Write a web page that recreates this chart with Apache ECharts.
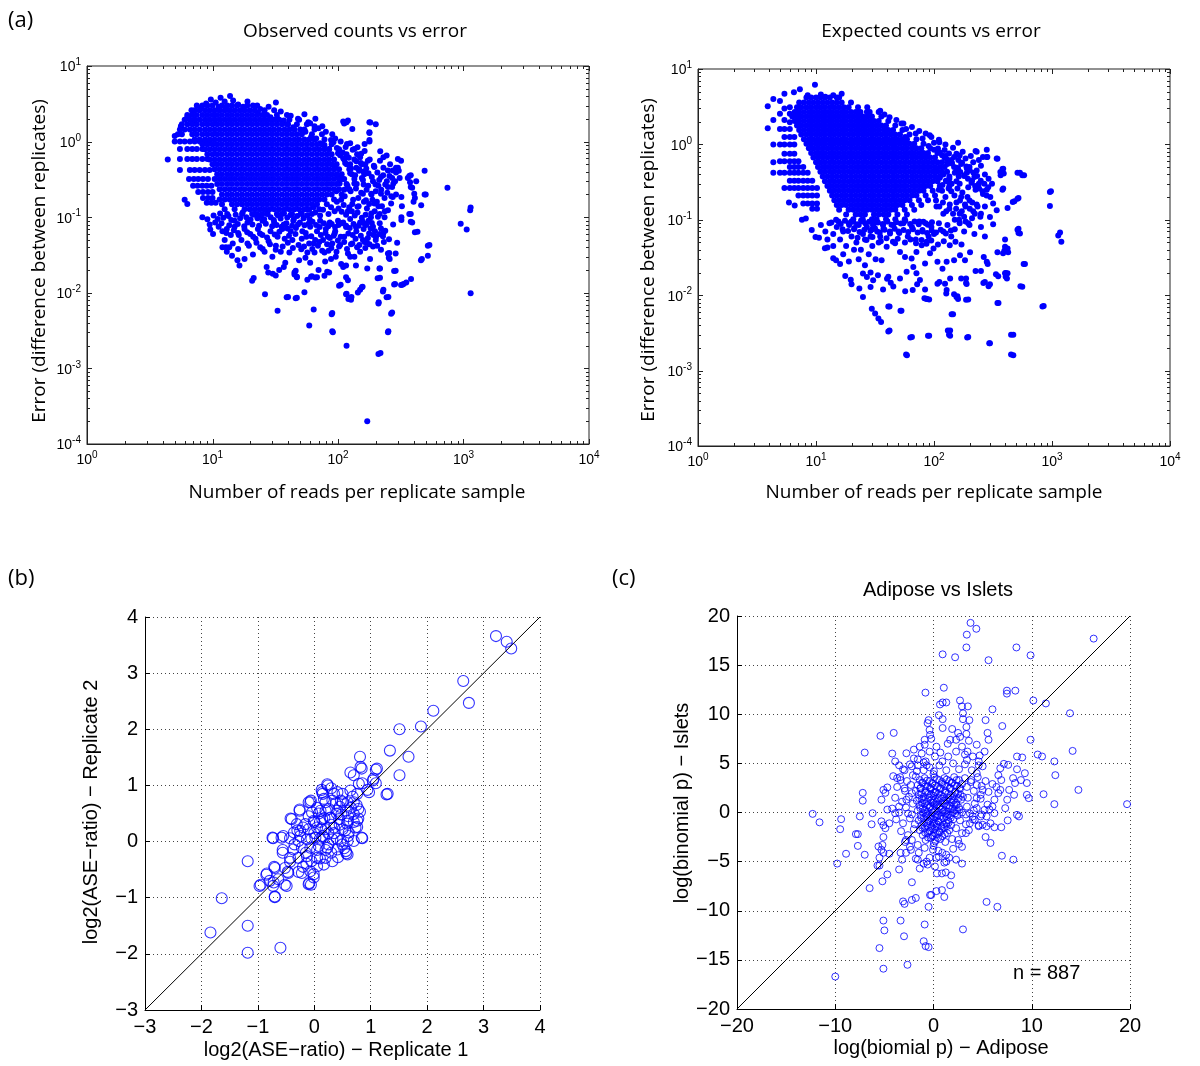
<!DOCTYPE html>
<html><head><meta charset="utf-8">
<script src="https://cdn.jsdelivr.net/npm/echarts/dist/echarts.min.js"></script>
<style>html,body{margin:0;padding:0;background:#fff}#c{width:1200px;height:1066px}</style>
</head><body><div id="c"></div><script>
// ---------- Panel (a) left: observed counts vs error ----------
// dense core, grouped by error level: [error, [read counts...]]
const obsRows = [
 [3.0, [7.5,8.3,9.1,10,11.9,13.1,14.3,15.7,18.9,22.7]],
 [2.6, [7.2,7.9,8.7,9.5,10.4,11.4,12.5,13.7,15,16.5,18,19.8,21.7,26,31]],
 [2.25,[6.3,6.9,7.5,8.3,9.1,10,10.9,11.9,13.1,14.3,15.7,17.2,18.9,20.7,22.7,24.9,27.2,32.6,39.2]],
 [1.95,[6.0,6.6,7.2,7.9,8.7,9.5,10.4,11.4,12.5,13.7,15,16.5,18,19.8,21.7,23.8,26,28.5,31,34,41,49]],
 [1.7, [5.7,6.3,6.9,7.5,8.3,9.1,10,10.9,11.9,13.1,14.3,15.7,17.2,18.9,20.7,22.7,24.9,27.2,29.8,32.6,35.8,39.2,47,56.5]],
 [1.45,[5.5,6.0,6.6,7.2,7.9,8.7,9.5,10.4,11.4,12.5,13.7,15,16.5,18,19.8,21.7,23.8,26,28.5,31,34,37.5,41,45,54,65]],
 [1.25,[5.3,5.7,6.9,7.5,8.3,9.1,10,10.9,11.9,13.1,14.3,15.7,17.2,18.9,20.7,22.7,24.9,27.2,29.8,32.6,35.8,39.2,43,47,51.5,62,74.5]],
 [1.07,[7.2,7.9,8.7,9.5,10.4,11.4,12.5,13.7,15,16.5,18,19.8,21.7,23.8,26,28.5,31,34,37.5,41,45,49,54,59,65,78]],
 [0.92,[8.3,9.1,10,10.9,11.9,13.1,14.3,15.7,17.2,18.9,20.7,22.7,24.9,27.2,29.8,32.6,35.8,39.2,43,47,51.5,56.5,62,68,74.5,89]],
 [0.79,[8.7,9.5,10.4,11.4,12.5,13.7,15,16.5,18,19.8,21.7,23.8,26,28.5,31,34,37.5,41,45,49,54,59,65,71,78,85,102]],
 [0.68,[9.1,10,10.9,11.9,13.1,14.3,15.7,17.2,18.9,20.7,22.7,24.9,27.2,29.8,32.6,35.8,39.2,43,47,51.5,56.5,62,68,74.5,81.5,89,117]],
 [0.58,[9.5,10.4,11.4,12.5,13.7,15,16.5,18,19.8,21.7,23.8,26,28.5,31,34,37.5,41,45,49,54,59,65,71,78,85,93,112,135]],
 [0.5, [10,10.9,11.9,13.1,14.3,15.7,17.2,18.9,20.7,22.7,24.9,27.2,29.8,32.6,35.8,39.2,43,47,51.5,56.5,62,68,74.5,81.5,89,97.5,117,155]],
 [0.43,[10.4,11.4,12.5,13.7,15,16.5,18,19.8,21.7,23.8,26,28.5,31,34,37.5,41,45,49,54,59,65,71,78,85,93,102,123,148]],
 [0.37,[10.9,11.9,13.1,14.3,15.7,17.2,18.9,20.7,22.7,24.9,27.2,29.8,32.6,35.8,39.2,43,47,51.5,56.5,62,68,74.5,81.5,89,97.5,107,129,162]],
 [0.32,[10.4,11.4,12.5,13.7,15,16.5,18,19.8,21.7,23.8,26,28.5,31,34,37.5,41,45,49,54,59,65,71,78,85,93,102,112,135]],
 [0.275,[10.9,11.9,13.1,14.3,15.7,17.2,18.9,20.7,22.7,24.9,27.2,29.8,32.6,35.8,39.2,43,47,51.5,56.5,62,68,74.5,81.5,89,97.5,117,141]],
 [0.235,[11.4,12.5,13.7,15,16.5,18,19.8,21.7,23.8,26,28.5,31,34,37.5,41,45,49,54,59,65,71,78,85,93,102,123]],
 [0.2, [11.9,13.1,14.3,15.7,17.2,18.9,20.7,22.7,24.9,27.2,29.8,32.6,35.8,39.2,43,47,51.5,56.5,62,68,74.5,81.5,89,107]],
 [0.172,[11.4,12.5,13.7,15,16.5,18,19.8,21.7,23.8,26,28.5,31,34,37.5,41,45,49,54,59,65,71,78,93]],
 [0.148,[11.9,14.3,15.7,17.2,18.9,20.7,22.7,24.9,27.2,29.8,32.6,35.8,39.2,43,47,51.5,56.5,62,68,81.5]],
 [0.127,[12.5,15,18,19.8,21.7,23.8,26,28.5,31,34,37.5,41,45,49,54,59,71]],
 [0.11,[13.1,17.2,20.7,22.7,24.9,27.2,32.6,35.8,43,51.5,62]]
];
const obsStripes = [[5.0,1.0],[5.5,1.0],[6.0,1.0],[6.6,1.0],[7.2,1.0],[7.9,1.0],[8.7,1.0],[9.5,1.0],
 [5.5,0.8],[6.3,0.8],[6.9,0.8],[7.5,0.8],[8.3,0.8],
 [4.4,0.58],[5.5,0.59],[6.3,0.59],[6.9,0.59],[7.5,0.59],[8.3,0.59],[9.1,0.59],
 [5.5,0.42],[6.6,0.42],[7.2,0.42],[7.9,0.42],[8.7,0.42],[9.5,0.42],
 [6.5,0.32],[7.1,0.32],[7.7,0.32],[8.4,0.32],[9.2,0.32],
 [7.0,0.26],[7.6,0.26],[8.3,0.26],[9.0,0.26],[9.8,0.26],
 [7.7,0.215],[8.4,0.215],[9.2,0.215],[10,0.215],
 [8.4,0.18],[9.2,0.18],[10,0.18],[9.0,0.155],[9.8,0.155],[10.6,0.155],
 [6.0,0.17],[6.3,0.15],[5.0,1.19],[5.6,1.6],[6.3,2.1],[6.8,2.6],[7.0,1.9]];
const obsSparse = [
 [9.7,3.6],[11.6,3.8],[13.8,4.0],[12.5,3.4],[16,3.1],[19,3.4],[32,3.3],[24,2.7],[28,2.9],[35,2.5],[42,2.2],[54,2.3],[66,2.0],[48,2.0],[58,1.8],[75,1.6],
 [8.0,2.8],[8.9,3.2],[10.6,3.3],[11.2,2.9],[12.9,2.8],[14.6,3.5],[17.5,2.9],[21,3.0],[23,2.4],[26,2.3],[29,2.1],[33,2.0],[37,1.9],[40,1.7],[44,1.55],[50,1.45],[55,1.35],[61,1.15],[67,1.1],[72,0.95],[78,0.9],[85,0.8],
 [117,1.8],[120,1.9],[178,1.8],[200,1.7],[178,1.3],[178,1.0],
 [112,1.74],[110,1.85],[130,1.47],[181,1.79],[178,1.33],[178,1.05],[217,0.745],[244,0.655],[216,0.56],[300,0.59],[318,0.56],[305,0.41],[270,0.33],[310,0.33],[360,0.33],[380,0.36],[420,0.30],[390,0.245],[405,0.205],[460,0.144],[500,0.2],[320,0.185],[323,0.14],[320,0.1],[370,0.11],[380,0.087],[273,0.185],[265,0.152],[250,0.124],[235,0.1],[215,0.083],[184,0.112],[195,0.152],[167,0.168],[143,0.137],[158,0.205],[184,0.205],[220,0.205],[250,0.25],[220,0.34],[195,0.46],[173,0.56],[153,0.69],[143,0.84],[163,0.93],[250,0.415],[273,0.415],
 [125,0.95],[135,0.8],[150,0.62],[165,0.5],[140,0.45],[175,0.38],[190,0.3],[160,0.27],[200,0.22],[145,0.18],[130,0.15],[170,0.13],[120,0.12],[185,0.2],[210,0.26],[230,0.45],[155,0.33],[115,0.85],[105,1.0],[95,1.1],[90,1.25],[80,1.35],[70,1.5],[65,1.6],[60,1.75],[88,1.05],[100,0.7],[110,0.6],[125,0.5],[135,0.28],[112,0.23],[98,0.16],[140,0.55],[160,0.4],[125,0.38],[245,0.3],[260,0.5],[290,0.45],[230,0.62],[270,0.25],[290,0.2],[235,0.18],[210,0.14],[285,0.3],
 [300,0.45],[290,0.39],[370,0.35],[375,0.29],[380,0.25],[410,0.18],[400,0.16],[490,0.41],[490,0.2],[745,0.246],[1140,0.134],[1130,0.124],[950,0.082],[1060,0.069],[1140,0.0099],
 [410,0.063],[458,0.027],[520,0.042],[520,0.031],[535,0.043],[466,0.028],[382,0.0152],[350,0.0137],[325,0.0128],[285,0.0131],[288,0.0196],[270,0.0055],[252,0.0031],[218,0.0016],[211,0.0075],[252,0.0088],[230,0.011],[216,0.0158],[216,0.021],[171,0.021],[288,0.033],[256,0.0335],[254,0.029],[296,0.046],[220,0.037],[430,0.064],[390,0.085],[380,0.11],[320,0.092],[275,0.08],[230,0.062],[228,0.056],[255,0.051],[200,0.05],[163,0.047],[116,0.023],[139,0.023],[105,0.0128],[117,0.0097],[128,0.0088],[121,0.0083],[150,0.011],[157,0.012],[117,0.002],[90,0.0031],[90,0.0054],[59,0.0037],[64,0.006],[79,0.026],[85,0.0185],[68,0.0161],[62,0.0166],[57,0.0149],[47,0.0163],[45,0.0186],[40,0.0088],[47,0.0086],[54,0.0102],[171,0.0002],
 [8.3,0.1],[9.1,0.094],[9.6,0.069],[10.1,0.06],[12,0.04],[12.8,0.04],[13.6,0.04],[14.3,0.031],[15.8,0.027],[16.4,0.023],[20.7,0.0144],[21.3,0.0157],[26.2,0.0096],[27.8,0.0185],[30.2,0.0178],[31.9,0.017],[33,0.0058],[39,0.0087],[46,0.0085],[45,0.0175],[47,0.016],[61,0.0163],[66,0.0159],[78,0.0168],[82,0.019],[89,0.0052],[91,0.003],[102,0.0124],[116,0.016],[120,0.0147],[116,0.0096],[127,0.0081],[144,0.0101],[155,0.0118],[207,0.0156],[214,0.021],[210,0.0072],[210,0.00155],[228,0.0104],[244,0.0087],[265,0.0053],[250,0.003],[250,0.033],[258,0.028],[280,0.0194],[280,0.0129],[318,0.0127],[333,0.0131],
 [39.6,0.071],[43.3,0.05],[49,0.027],[51,0.0376],[57,0.034],[65,0.034],[78,0.034],[84,0.036],[96,0.03],[102,0.041],[112,0.047],[131,0.058],[148,0.043],[158,0.05],[170,0.046],[177,0.061],[201,0.055],[220,0.071],[41,0.034],[46,0.0196],[37,0.022],[55,0.029],[71,0.047],[83,0.055],[94,0.061],[116,0.074],[139,0.074],[163,0.082],[186,0.084],[208,0.101],[120,0.033],[135,0.03],[106,0.024],
 [10.5,0.085],[11.2,0.075],[12,0.065],[13,0.07],[14,0.058],[15,0.075],[16,0.062],[17,0.05],[18,0.07],[19,0.045],[20,0.06],[22,0.052],[23,0.07],[24,0.04],[25,0.058],[26,0.035],[28,0.048],[29,0.065],[30,0.03],[32,0.042],[33,0.055],[35,0.035],[36,0.07],[38,0.025],[12.5,0.05],[14.5,0.045],[21,0.032],[18,0.028],[27,0.022],[34,0.02],[13,0.035],[16,0.038],[9.5,0.08],[11,0.095],[15,0.09],[19,0.085],[25,0.09],[31,0.085],[37,0.08],[42,0.065],[44,0.09],[48,0.08],[52,0.065],[56,0.055],[60,0.075],[64,0.045],[68,0.065],[72,0.09],[76,0.05],[80,0.07],[86,0.085],[90,0.045],[95,0.065],[100,0.09],[105,0.055],[110,0.085],[125,0.095],[130,0.045],[140,0.065],[150,0.085],[160,0.07],[175,0.09],[190,0.075],[60,0.025],[70,0.02],[88,0.028],[110,0.022],[125,0.03],[150,0.035],[180,0.028],[190,0.041]
];
// mottled band below and right of the core
const obsMottled = [
 [10.2,0.105],[11.5,0.112],[12.2,0.098],[13.4,0.104],[14.1,0.092],[15.3,0.108],[16.6,0.097],[17.4,0.115],[18.6,0.1],[20.1,0.093],[21.5,0.108],[22.8,0.097],[24.3,0.104],[25.8,0.094],[27.5,0.112],[29.1,0.1],[30.8,0.092],[33.2,0.106],[34.9,0.096],[37.1,0.113],[39.4,0.099],[41.8,0.107],[44.5,0.095],[47.3,0.104],[50.6,0.112],[53.2,0.097],[56.8,0.106],[59.5,0.094],
 [11.8,0.083],[13.6,0.078],[15.9,0.081],[17.9,0.076],[20.8,0.08],[23.5,0.077],[26.6,0.082],[29.9,0.076],[32.4,0.079],[35.6,0.075],[38.8,0.083],[43.1,0.077],[46.2,0.072],[49.7,0.085],[54.1,0.078],[58.3,0.082],[62.7,0.087],[66.9,0.079],[71.5,0.074],[77.2,0.083],[83.6,0.076],[89.1,0.081],[94.7,0.074],[101,0.079],[108,0.083],[116,0.077],[124,0.072],[133,0.081],[146,0.077],[157,0.088],[168,0.079],[182,0.071],[197,0.065],
 [12.9,0.062],[14.8,0.067],[16.2,0.058],[18.9,0.063],[21.1,0.055],[23.9,0.061],[27.2,0.054],[31.3,0.059],[34.1,0.064],[37.6,0.052],[40.7,0.057],[45.8,0.06],[51.4,0.052],[55.3,0.062],[61.2,0.056],[65.8,0.05],[73.1,0.058],[79.5,0.062],[86.2,0.053],[92.4,0.057],[99.8,0.049],[112,0.055],[121,0.061],[138,0.052],[152,0.057],[173,0.053],[192,0.058],[215,0.06],[238,0.066],
 [19.5,0.042],[22.4,0.046],[25.1,0.038],[28.7,0.044],[31.9,0.037],[36.2,0.041],[39.8,0.046],[43.7,0.039],[48.5,0.043],[53.6,0.041],[58.9,0.045],[62.4,0.038],[69.2,0.042],[74.8,0.036],[81.9,0.044],[88.5,0.039],[97.3,0.035],[104,0.043],[118,0.038],[127,0.044],[142,0.04],[165,0.039],[178,0.044],[205,0.042],[232,0.047],
 [92,0.98],[98,0.82],[104,0.66],[109,0.72],[114,0.52],[118,0.93],[122,0.61],[127,0.44],[131,0.78],[137,0.36],[142,0.68],[147,0.41],[152,0.52],[158,0.31],[163,0.75],[168,0.44],[174,0.26],[179,0.58],[186,0.34],[193,0.48],[199,0.27],[206,0.39],[213,0.31],[221,0.23],[229,0.36],[238,0.27],[247,0.21],[257,0.35],[266,0.19],[276,0.28],
 [94,0.45],[99,0.36],[103,0.28],[108,0.32],[113,0.19],[119,0.26],[126,0.22],[132,0.17],[139,0.24],[146,0.14],[153,0.21],[161,0.16],[169,0.23],[177,0.15],[188,0.17],[196,0.12],[204,0.16],[215,0.11],[224,0.14],[236,0.12],
 [97,0.22],[101,0.13],[106,0.17],[111,0.145],[116,0.108],[123,0.135],[129,0.12],[136,0.105],[143,0.115],[155,0.098],[166,0.108],[183,0.1],[107,0.118],[94,0.12],[88,0.135],[84,0.11],[76,0.125],[72,0.105],[66,0.115],[64,0.135],[58,0.125]
];

// ---------- Panel (a) right: expected counts vs error ----------
const expRows = [
 [4.2, [8.3,9.1,10,10.9,11.9,13.1,15.7]],
 [3.6, [7.2,7.9,8.7,9.5,10.4,11.4,12.5,13.7,15,16.5,19.8]],
 [3.1, [6.9,7.5,8.3,9.1,10,10.9,11.9,13.1,14.3,15.7,17.2,18.9,22.7,27.2]],
 [2.7, [6.6,7.2,7.9,8.7,9.5,10.4,11.4,12.5,13.7,15,16.5,18,19.8,21.7,23.8,28.5,34]],
 [2.35,[6.3,6.9,7.5,8.3,9.1,10,10.9,11.9,13.1,14.3,15.7,17.2,18.9,20.7,22.7,24.9,27.2,29.8,35.8]],
 [2.05,[6.6,7.2,7.9,8.7,9.5,10.4,11.4,12.5,13.7,15,16.5,18,19.8,21.7,23.8,26,28.5,31,34,41]],
 [1.78,[6.9,7.5,8.3,9.1,10,10.9,11.9,13.1,14.3,15.7,17.2,18.9,20.7,22.7,24.9,27.2,29.8,32.6,35.8,39.2,47]],
 [1.55,[7.2,7.9,8.7,9.5,10.4,11.4,12.5,13.7,15,16.5,18,19.8,21.7,23.8,26,28.5,31,34,37.5,41,45,54]],
 [1.35,[7.5,8.3,9.1,10,10.9,11.9,13.1,14.3,15.7,17.2,18.9,20.7,22.7,24.9,27.2,29.8,32.6,35.8,39.2,43,47,51.5,62]],
 [1.17,[7.9,8.7,9.5,10.4,11.4,12.5,13.7,15,16.5,18,19.8,21.7,23.8,26,28.5,31,34,37.5,41,45,49,54,59,71]],
 [1.02,[8.3,9.1,10,10.9,11.9,13.1,14.3,15.7,17.2,18.9,20.7,22.7,24.9,27.2,29.8,32.6,35.8,39.2,43,47,51.5,56.5,62,68,81.5]],
 [0.89,[8.7,9.5,10.4,11.4,12.5,13.7,15,16.5,18,19.8,21.7,23.8,26,28.5,31,34,37.5,41,45,49,54,59,65,71,78,93]],
 [0.77,[9.1,10,10.9,11.9,13.1,14.3,15.7,17.2,18.9,20.7,22.7,24.9,27.2,29.8,32.6,35.8,39.2,43,47,51.5,56.5,62,68,74.5,81.5,89,107]],
 [0.67,[9.5,10.4,11.4,12.5,13.7,15,16.5,18,19.8,21.7,23.8,26,28.5,31,34,37.5,41,45,49,54,59,65,71,78,85,93,102,123]],
 [0.58,[10,10.9,11.9,13.1,14.3,15.7,17.2,18.9,20.7,22.7,24.9,27.2,29.8,32.6,35.8,39.2,43,47,51.5,56.5,62,68,74.5,81.5,89,97.5,107,117,141]],
 [0.5, [10.4,11.4,12.5,13.7,15,16.5,18,19.8,21.7,23.8,26,28.5,31,34,37.5,41,45,49,54,59,65,71,78,85,93,102,112,123,148]],
 [0.435,[10.9,11.9,13.1,14.3,15.7,17.2,18.9,20.7,22.7,24.9,27.2,29.8,32.6,35.8,39.2,43,47,51.5,56.5,62,68,74.5,81.5,89,97.5,107,117,129,155]],
 [0.375,[11.4,12.5,13.7,15,16.5,18,19.8,21.7,23.8,26,28.5,31,34,37.5,41,45,49,54,59,65,71,78,85,93,102,112,135,162]],
 [0.325,[11.9,13.1,14.3,15.7,17.2,18.9,20.7,22.7,24.9,27.2,29.8,32.6,35.8,39.2,43,47,51.5,56.5,62,68,74.5,81.5,89,97.5,107,129,155]],
 [0.28,[12.5,13.7,15,16.5,18,19.8,21.7,23.8,26,28.5,31,34,37.5,41,45,49,54,59,65,71,78,85,93,112,135]],
 [0.243,[13.1,14.3,15.7,17.2,18.9,20.7,22.7,24.9,27.2,29.8,32.6,35.8,39.2,43,47,51.5,56.5,62,68,74.5,81.5,97.5,117]],
 [0.21,[13.7,15,16.5,18,19.8,21.7,23.8,26,28.5,31,34,37.5,41,45,49,54,59,65,71,85,102]],
 [0.182,[14.3,15.7,17.2,18.9,20.7,22.7,24.9,27.2,29.8,32.6,35.8,39.2,43,47,51.5,56.5,62,74.5,89]],
 [0.157,[15,16.5,18,19.8,21.7,23.8,26,28.5,31,34,37.5,41,45,49,54,65,78]],
 [0.136,[15.7,18.9,20.7,22.7,24.9,27.2,29.8,32.6,35.8,39.2,43,47,56.5,68]],
 [0.118,[18,21.7,23.8,26,31,34,37.5,41,49,59]],
 [0.102,[20.7,24.9,29.8,32.6,39.2,47,56.5]]
];
const expStripes = [
 [3.9,3.2],[3.9,1.64],[4.35,4.0],[4.35,2.1],[4.35,1.0],[4.35,0.58],[4.35,0.42],
 [4.95,3.75],[4.95,2.55],[4.95,1.6],[4.95,1.0],[4.95,0.6],[4.95,0.42],
 [5.4,4.7],[5.4,3.0],[5.4,2.1],[5.4,1.6],[5.4,1.25],[5.4,1.0],[5.4,0.75],[5.4,0.6],[5.4,0.42],[5.4,0.265],
 [6.0,3.1],[6.0,2.55],[6.0,1.97],[6.0,1.6],[6.0,1.25],[6.0,1.0],[6.0,0.75],[6.0,0.6],[6.0,0.5],[6.0,0.42],[6.0,0.33],[6.0,0.265],[5.9,0.17],
 [6.55,1.25],[6.55,1.0],[6.55,0.75],[6.55,0.6],[6.55,0.5],[6.55,0.42],[6.55,0.33],[6.55,0.265],[6.6,0.155],
 [7.1,0.6],[7.1,0.5],[7.1,0.42],[7.1,0.33],[7.1,0.265],[7.1,0.21],
 [7.8,0.5],[7.8,0.42],[7.8,0.33],[7.8,0.265],[7.8,0.21],[7.8,0.165],
 [8.5,0.42],[8.5,0.33],[8.5,0.265],[8.5,0.21],[8.5,0.165],
 [9.3,0.33],[9.3,0.265],[9.3,0.21],[9.3,0.165],[9.3,0.14],
 [10.2,0.265],[10.2,0.21],[10.2,0.165],[10.2,0.14]];
const expSparse = [
 [6.5,4.9],[7.3,5.4],[9.8,6.2],[8.5,4.5],[12,4.3],[14,4.5],[16.5,4.7],[15,4.2],[11,4.6],
 [27,2.7],[35,2.8],[53,1.9],[57,1.25],[92,1.32],[111,1.07],[165,0.71],[225,0.82],[283,0.68],[340,0.65],[190,0.48],
 [7.6,0.1],[8.2,0.104],[9.2,0.073],[9.9,0.059],[10.6,0.058],[11.9,0.042],[12.5,0.043],[14,0.031],[14.8,0.029],[16,0.026],[17.7,0.018],[19.7,0.016],[20,0.014],[23.3,0.0123],[25,0.0095],[29.7,0.0066],[31.7,0.0057],[33.8,0.0049],[35.6,0.0044],[41,0.0071],[41,0.0033],[52,0.0062],[58,0.00163],[63,0.00275],[89,0.0029],[131,0.0034],[134,0.003],[141,0.0056],[191,0.00275],[294,0.0023],[450,0.003],[450,0.00163],[345,0.0079],[830,0.0071],
 [960,0.233],[960,0.152],[1130,0.062],[1170,0.068],[1200,0.051],[575,0.026],[540,0.0131],[510,0.074],[520,0.067],[465,0.172],[510,0.19],[510,0.42],[560,0.39],[380,0.47],[390,0.41],[365,0.43],[380,0.25],[400,0.055],[400,0.044],[395,0.039],[385,0.036],[405,0.0197],[405,0.0175],[335,0.019],[290,0.0131],[262,0.0145],[285,0.026],[264,0.032],[225,0.021],[187,0.0167],[187,0.0145],[155,0.0095],[148,0.0103],[187,0.0087],[107,0.0142],[124,0.0142],[127,0.0105],[83,0.0091],[87,0.0089],[57,0.0113],[66,0.0117],[72,0.014],[43,0.0146],[37,0.0119],[40,0.0165],[29,0.0128],[30.5,0.0158],[33.5,0.0184],[27,0.0174],[25,0.0194],
 [280,0.85],[280,0.68],[345,0.645],[386,0.476],[367,0.39],[535,0.42],[580,0.39],[520,0.195],[480,0.176],[386,0.26],[420,0.143],[317,0.164],[340,0.134],[298,0.109],[317,0.087],[520,0.076],[535,0.066],[420,0.0415],[425,0.037],[590,0.026],[420,0.0195],[415,0.0167],[350,0.0178],[352,0.0079],[560,0.0129],[470,0.003],[470,0.0016],[298,0.0023],[850,0.0072],[980,0.24],
 [195,0.0028],[137,0.0029],[137,0.0034],[91,0.0029],[65,0.0028],[59,0.0016],[42,0.0034],[42,0.0071],[53,0.0062],[145,0.0056],[195,0.0088],[158,0.0097],[160,0.0089],[84,0.0119],[91,0.0088],[86,0.009],[128,0.0117],[111,0.015],[137,0.0167],[170,0.0167],[189,0.0141],
 [99,0.0415],[107,0.0277],[118,0.0225],[128,0.0277],[148,0.029],[166,0.034],[183,0.029],[202,0.037],[250,0.021],[280,0.0277],[270,0.015],[298,0.014],[345,0.037],[400,0.0195],
 [37.3,0.076],[42.4,0.066],[46.8,0.049],[39.7,0.044],[51.5,0.0375],[56.8,0.032],[64.6,0.0307],[71,0.0375],[78.6,0.046],[86.7,0.051],[92.5,0.036],[66.8,0.0237],[58.6,0.0205],[51.5,0.0167],[45.2,0.013],[41,0.0175],[36,0.029],[71,0.0195],[76,0.0159],[84,0.0264],
 [11,0.085],[12,0.07],[13,0.09],[14,0.065],[15,0.08],[16,0.055],[17,0.07],[18,0.045],[19,0.09],[20,0.06],[21,0.075],[22,0.05],[23,0.085],[24,0.04],[25,0.065],[26,0.055],[27,0.08],[28,0.035],[29,0.06],[30,0.045],[31,0.09],[32,0.03],[33,0.07],[34,0.05],[12.5,0.055],[14,0.045],[17,0.035],[19,0.028],[21,0.04],[23,0.03],[26,0.025],[29,0.02],[15.5,0.095],[20,0.095],[25,0.095],[30,0.075],[35,0.06],[37,0.085],[40,0.095],[45,0.085],[50,0.07],[55,0.09],[60,0.06],[65,0.08],[70,0.055],[75,0.095],[80,0.07],[85,0.09],[90,0.06],[95,0.08],[100,0.065],[110,0.09],[120,0.07],[130,0.085],[140,0.06],[150,0.075],[165,0.09],[180,0.07],[200,0.085],[220,0.065],[250,0.08],[270,0.06],
 [100,0.85],[112,0.78],[125,0.7],[140,0.62],[155,0.75],[170,0.55],[185,0.65],[200,0.5],[215,0.58],[230,0.45],[250,0.52],[270,0.4],[290,0.35],[310,0.3],[105,0.45],[120,0.4],[135,0.35],[150,0.42],[165,0.3],[180,0.38],[195,0.27],[210,0.33],[225,0.25],[240,0.3],[260,0.22],[280,0.25],[300,0.2],[110,0.25],[125,0.2],[140,0.24],[155,0.17],[170,0.2],[185,0.15],[200,0.18],[215,0.13],[230,0.16],[250,0.12],[270,0.15],[105,0.15],[120,0.12],[135,0.14],[150,0.1],[165,0.12],[180,0.11],[195,0.09],[210,0.105],[130,0.55],[160,0.48],[190,0.42],[220,0.37],[175,0.8],[205,0.7],[240,0.62],[260,0.68],[230,0.8],[145,0.9],[125,1.0],[160,1.05],[110,1.15],[95,1.25],[85,1.4],[75,1.5],[65,1.7],[55,1.9],[48,2.1],[42,2.3],[38,2.5],[58,1.6],[70,1.4],[80,1.2],[100,1.05],[90,0.95]
];
const expMottled = [
 [13.5,0.092],[14.8,0.1],[16.2,0.088],[17.6,0.097],[19.1,0.085],[20.6,0.094],[22.3,0.087],[24.1,0.098],[26.3,0.089],[28.2,0.094],[30.4,0.085],[33.5,0.092],[36.8,0.088],[40.2,0.096],[43.6,0.086],[47.9,0.093],[52.3,0.089],[57.1,0.097],[62.8,0.088],[68.4,0.095],[74.2,0.087],[81.3,0.094],[88.7,0.086],[96.1,0.093],
 [16.8,0.075],[18.7,0.071],[21.2,0.078],[23.4,0.069],[25.7,0.074],[28.9,0.071],[31.6,0.077],[34.7,0.068],[38.1,0.074],[42.3,0.07],[46.4,0.076],[50.8,0.067],[55.2,0.073],[60.5,0.069],[66.3,0.075],[72.7,0.068],[79.8,0.073],[87.4,0.067],[95.6,0.072],[104,0.068],[114,0.074],[126,0.066],[139,0.072],
 [22.5,0.058],[26.8,0.054],[30.1,0.059],[35.4,0.052],[39.6,0.057],[44.9,0.051],[49.3,0.056],[56.7,0.05],[63.2,0.055],[70.4,0.049],[78.5,0.054],[86.3,0.048],[94.8,0.053],[108,0.047],[121,0.052],[136,0.046],[152,0.051],[171,0.047],
 [108,0.88],[117,0.72],[123,0.84],[129,0.63],[134,0.76],[142,0.56],[148,0.68],[156,0.49],[161,0.62],[167,0.43],[173,0.57],[181,0.39],[188,0.51],[194,0.35],[201,0.45],[208,0.31],[216,0.42],[223,0.28],[232,0.38],[241,0.26],[249,0.33],[258,0.24],[267,0.3],[279,0.21],[288,0.27],
 [112,0.36],[118,0.29],[126,0.33],[133,0.26],[141,0.3],[149,0.21],[158,0.26],[166,0.18],[174,0.23],[183,0.16],[192,0.2],[201,0.14],[211,0.17],[222,0.12],[234,0.15],[247,0.11],
 [104,0.18],[111,0.15],[119,0.17],[127,0.13],[136,0.16],[145,0.12],[154,0.14],[163,0.1],[172,0.13],[185,0.095]
];

// ---------- Panel (b): log2 ASE ratio, replicate 1 vs replicate 2 ----------
const aseRep = [
 [3.22,3.66],[3.41,3.56],[3.49,3.44],[2.64,2.86],[2.74,2.47],[2.11,2.33],[1.89,2.05],[1.51,2.0],[1.34,1.62],[1.67,1.51],[1.51,1.18],[1.28,0.84],[1.09,1.28],[1.04,1.09],[0.81,1.51],[0.84,1.30],[0.64,1.23],[0.94,0.92],[0.84,0.07],
 [-1.64,-1.01],[-1.84,-1.62],[-1.18,-1.50],[-1.18,-1.98],[-0.60,-1.89],[-1.18,-0.35],[-0.70,-0.98],[-0.52,-0.77],[-0.95,-0.77],[-0.84,-0.57],[-0.72,-0.73],[-0.71,-0.45],[-0.09,-0.74],[-0.06,-0.77],[-0.01,-0.58],[-0.74,0.07],[-0.55,0.10],[-0.56,-0.15],[-0.56,-0.20],[-0.43,-0.36],[-0.47,-0.54],[-0.28,-0.54],[-0.14,-0.39],[-0.42,0.41],[-0.26,0.57],[-0.06,0.73],[0.23,1.02],[0.13,0.92],[0.57,-0.21],[0.53,-0.12],[0.81,0.53],[0.78,0.41],[0.76,0.26],
 [0.82,1.33],[1.11,1.30],[0.70,1.18],[1.05,1.12],[0.79,1.03],[0.85,1.04],[1.09,1.04],[0.97,0.88],[1.30,0.85],[0.64,0.91],[0.76,0.85],[0.24,1.0],[0.14,0.88],[0.41,0.88],[0.50,0.85],[-0.07,0.70],[0.17,0.76],[0.32,0.73],[0.47,0.73],[0.59,0.70],[0.70,0.70],[-0.26,0.55],[-0.04,0.52],[0.11,0.55],[0.26,0.58],[0.41,0.55],[0.56,0.55],[0.70,0.49],[0.78,0.58],[0.76,0.37],[0.73,0.25],
 [-0.40,0.40],[-0.31,0.31],[-0.16,0.31],[-0.01,0.37],[0.14,0.40],[0.29,0.43],[0.44,0.40],[0.59,0.37],[-0.25,0.19],[-0.10,0.22],[0.05,0.25],[0.20,0.22],[0.35,0.25],[0.50,0.22],[0.61,0.16],[0.85,0.06],[-0.36,0.16],[-0.73,0.06],[-0.58,0.07],[-0.43,0.06],[-0.28,0.01],[-0.13,0.04],[0.02,0.07],[0.17,0.07],[0.32,0.04],[0.47,0.01],[0.59,0.01],[0.70,0.01],
 [-0.37,-0.14],[-0.22,-0.11],[-0.07,-0.11],[0.08,-0.08],[0.23,-0.11],[0.41,-0.14],[0.56,-0.17],[0.59,-0.23],[-0.43,-0.29],[-0.28,-0.29],[-0.13,-0.26],[0.05,-0.29],[0.20,-0.29],[0.32,-0.35],[-0.85,-0.59],[-0.70,-0.47],[-0.52,-0.47],[-0.46,-0.56],[-0.22,-0.56],[-0.07,-0.53],[-0.01,-0.64],[-0.10,-0.76],[0.17,-0.41],[0.05,-0.44],[-0.97,-0.79],[-0.73,-0.79],[-0.49,-0.79],[-0.70,-0.99],[-0.79,-0.70],[-0.64,-0.67],
 [-0.2,0.25],[-0.1,0.45],[0,0.15],[0.1,0.35],[0.2,0.55],[0.3,0.3],[0.4,0.5],[0.5,0.7],[0.6,0.45],[0.15,0.1],[0.25,-0.05],[0.35,0.15],[0.45,0.3],[0.55,0.2],[0.05,-0.15],[-0.05,0.05],[-0.15,-0.2],[0.1,-0.3],[0.3,-0.2],[0.2,0.7],[0.35,0.85],[0.45,0.62],[0.05,0.6],[-0.1,0.7],[0.65,0.6],[0.7,0.35],[0.6,0.1],[0.5,-0.05],[0.4,0.05],[0.0,0.35],[-0.25,0.1],[-0.35,-0.05],[-0.3,0.2],[0.12,0.22],[0.28,0.42],[0.38,0.68],[0.18,0.42],[0.08,0.5],[0.48,0.48],[0.58,0.32],[0.68,0.8],[0.75,0.65],[0.3,0.95],[0.15,0.85],[-0.05,-0.35],[0.2,-0.15],[0.42,-0.28],[-0.2,-0.45],[0.25,0.15],[0.1,0.05]
];
const diagB = [-3, 4];

// ---------- Panel (c): log binomial p, adipose vs islets ----------
const pCore = [
 [-1.4,3.3],[-0.9,3.5],[-0.4,3.2],[0.1,3.6],[0.6,3.3],[1.1,3.5],[1.6,3.2],[2.1,3.6],[2.6,3.3],
 [-1.6,2.8],[-1.1,3.0],[-0.6,2.7],[-0.1,2.9],[0.4,2.6],[0.9,2.9],[1.4,2.7],[1.9,3.0],[2.4,2.7],[2.9,2.9],
 [-1.8,2.2],[-1.3,2.5],[-0.8,2.2],[-0.3,2.4],[0.2,2.1],[0.7,2.4],[1.2,2.2],[1.7,2.5],[2.2,2.1],[2.7,2.4],
 [-1.5,1.8],[-1.0,1.6],[-0.5,1.9],[0.0,1.7],[0.5,1.9],[1.0,1.6],[1.5,1.9],[2.0,1.7],[2.5,1.9],[3.0,1.6],
 [-1.7,1.2],[-1.2,1.4],[-0.7,1.1],[-0.2,1.3],[0.3,1.1],[0.8,1.4],[1.3,1.2],[1.8,1.3],[2.3,1.0],[2.8,1.3],
 [-1.4,0.7],[-0.9,0.9],[-0.4,0.6],[0.1,0.8],[0.6,0.6],[1.1,0.9],[1.6,0.7],[2.1,0.8],[2.6,0.5],
 [-1.6,0.2],[-1.1,0.4],[-0.6,0.1],[-0.1,0.3],[0.4,0.1],[0.9,0.3],[1.4,0.1],[1.9,0.4],[2.4,0.2],[2.9,0.0],
 [-1.3,-0.3],[-0.8,-0.1],[-0.3,-0.4],[0.2,-0.2],[0.7,-0.4],[1.2,-0.1],[1.7,-0.3],[2.2,-0.1],
 [-1.5,-0.8],[-1.0,-0.6],[-0.5,-0.9],[0.0,-0.7],[0.5,-0.9],[1.0,-0.6],[1.5,-0.8],[2.0,-0.7],
 [-1.2,-1.3],[-0.7,-1.1],[-0.2,-1.4],[0.3,-1.2],[0.8,-1.4],[1.3,-1.1],[1.8,-1.3],
 [-1.4,-1.8],[-0.9,-1.6],[-0.4,-1.9],[0.1,-1.7],[0.6,-1.9],[1.1,-1.6],[1.6,-1.8],
 [-1.1,-2.3],[-0.6,-2.1],[-0.1,-2.4],[0.4,-2.2],[0.9,-2.4],[1.4,-2.1],
 [-0.8,-2.8],[-0.3,-2.6],[0.2,-2.9],[0.7,-2.7],
 [-1.15,3.05],[-0.65,3.25],[-0.15,3.0],[0.35,3.4],[0.85,3.1],[1.35,3.35],[1.85,3.05],[2.35,3.3],
 [-1.35,2.45],[-0.85,2.65],[-0.35,2.5],[0.15,2.75],[0.65,2.5],[1.15,2.7],[1.65,2.45],[2.15,2.75],[2.65,2.5],
 [-1.25,1.95],[-0.75,2.05],[-0.25,1.85],[0.25,2.05],[0.75,1.8],[1.25,2.0],[1.75,1.75],[2.25,2.0],[2.75,1.8],
 [-1.45,1.45],[-0.95,1.25],[-0.45,1.5],[0.05,1.25],[0.55,1.45],[1.05,1.2],[1.55,1.5],[2.05,1.25],[2.55,1.45],
 [-1.15,0.95],[-0.65,0.75],[-0.15,1.0],[0.35,0.75],[0.85,0.95],[1.35,0.7],[1.85,1.0],[2.35,0.75],
 [-1.35,0.45],[-0.85,0.25],[-0.35,0.5],[0.15,0.25],[0.65,0.45],[1.15,0.2],[1.65,0.45],[2.15,0.25],[2.65,0.3],
 [-1.05,-0.05],[-0.55,-0.25],[-0.05,0.0],[0.45,-0.25],[0.95,0.05],[1.45,-0.2],[1.95,0.0],[2.45,-0.3],
 [-1.25,-0.55],[-0.75,-0.35],[-0.25,-0.6],[0.25,-0.45],[0.75,-0.65],[1.25,-0.4],[1.75,-0.55],
 [-0.95,-1.05],[-0.45,-0.85],[0.05,-1.15],[0.55,-0.95],[1.05,-1.2],[1.55,-1.0],
 [-1.15,-1.55],[-0.65,-1.35],[-0.15,-1.6],[0.35,-1.45],[0.85,-1.6],[1.35,-1.4],
 [-0.85,-2.05],[-0.35,-1.85],[0.15,-2.1],[0.65,-2.0],[1.15,-2.2],
 [-0.55,-2.55],[-0.05,-2.35],[0.45,-2.6],
 [0.05,4.2],[0.0,3.9],[0.05,-3.1],[0.0,-3.4],[-0.05,-3.8],[0.02,-1.0],[0.0,1.0],[0.03,2.0],
 [-2.2,-0.2],[-2.6,-0.1],[3.3,-0.2],[3.7,-0.1],
 [-3.1,4.4],[-2.4,4.9],[-1.7,4.2],[-1.0,5.1],[-0.4,4.6],[0.6,4.8],[1.3,4.3],[2.0,5.0],[2.6,4.4],[3.2,4.9],[3.9,4.3],[4.6,4.8],
 [-3.4,3.6],[-2.7,3.2],[-2.1,3.8],[3.2,3.5],[3.8,3.1],[4.5,3.6],[5.3,3.2],
 [-3.7,2.6],[-2.9,2.2],[-2.3,2.8],[3.4,2.6],[4.1,2.2],[4.9,2.7],[5.6,2.1],
 [-3.9,1.5],[-3.2,1.1],[-2.5,1.6],[-2.1,0.9],[3.5,1.5],[4.2,0.9],[4.8,1.4],[5.5,0.8],
 [-4.2,0.4],[-3.5,0.0],[-2.8,0.5],[3.4,0.6],[4.1,0.2],[4.9,-0.2],[5.7,0.3],
 [-3.8,-0.7],[-3.1,-1.1],[-2.4,-0.6],[-1.9,-1.2],[2.7,-0.8],[3.3,-1.2],[4.0,-0.7],[4.6,-1.3],
 [-3.3,-1.9],[-2.6,-2.3],[-2.0,-1.7],[2.3,-1.6],[2.9,-2.1],[3.6,-1.8],
 [-2.9,-3.0],[-2.2,-2.8],[-1.6,-3.3],[1.2,-3.0],[1.9,-2.7],[2.6,-3.2],
 [-2.3,-3.8],[-1.5,-4.1],[-0.9,-3.6],[0.5,-3.9],[1.3,-4.3],[2.0,-3.7],
 [-1.8,-4.7],[-0.7,-5.0],[0.3,-4.6],[1.1,-5.1]
];
const pSparse = [
 [19.7,0.85],[16.3,17.7],[3.77,19.3],[4.36,18.7],[3.39,18.1],[3.35,16.8],[0.93,16.1],[2.2,15.8],[5.6,15.5],[8.44,16.8],[9.88,16.0],
 [-0.82,12.2],[1.05,12.7],[7.47,12.4],[7.47,12.1],[8.33,12.4],[10.16,11.4],[11.44,11.1],[13.89,10.1],[14.16,6.27],[14.75,2.3],[12.3,5.2],[12.4,3.8],[12.3,0.85],[11.2,1.86],[10.6,5.9],[11.05,5.7],[9.88,7.4],[9.03,5.6],[8.5,5.7],[8.5,4.4],[7.16,4.95],[9.5,1.8],[9.7,1.46],[8.5,-0.24],[8.7,-0.4],[7.55,-0.8],[8.13,-4.8],[6.96,-4.4],[5.4,-9.1],[6.5,-9.6],[3.0,-11.9],[5.8,-3.1],[5.3,-2.5],[6.9,-1.5],[6.2,-1.5],
 [-12.3,-0.14],[-11.6,-1.0],[-9.4,-0.68],[-9.5,-1.7],[-9.8,-5.2],[-8.9,-4.2],[-10.0,-16.7],[-7.9,-2.2],[-7.7,-2.2],[-7.7,-3.4],[-7.0,-4.3],[-7.0,6.1],[-7.2,2.0],[-7.2,1.2],[-6.5,-7.7],[-7.5,-0.4],[-6.3,-1.2],[-5.4,7.8],[-4.05,8.1],
 [-5.1,-11.0],[-5.0,-12.0],[-5.5,-13.8],[-5.1,-15.9],[-2.65,-15.5],[-3.35,-11.0],[-3.0,-12.6],[-3.1,-9.05],[-2.95,-9.3],[-1.0,-13.1],[-0.8,-13.6],[-0.5,-13.7],[-0.9,-11.4],[-1.8,-8.7],[-0.35,-8.4],[-0.23,-8.4],[0.3,-8.0],[0.86,-7.9],[1.1,-8.6],[1.7,-7.4],[0.35,-6.2],[0.86,-6.2],[1.25,-6.1],[-0.5,-9.6],[-2.2,-8.9],[-2.2,-7.1],[-4.5,-4.2],[-3.35,-4.1],
 [0.93,11.2],[1.3,11.2],[0.66,11.0],[2.7,11.4],[2.9,10.8],[3.5,10.8],[3.0,10.1],[6.0,10.5],[7.0,8.8],[5.3,9.4],[5.5,8.1],[5.6,7.4],[-0.5,9.4],[-0.6,9.1],[0.55,9.9],[0.93,9.5],[0.93,8.6],[1.9,8.5],[2.5,8.1],[2.7,7.7],[2.3,7.4],[3.65,9.4],[3.0,9.5],[3.35,8.7],[3.35,8.0],[3.6,7.3],[-0.4,8.4],[-0.35,7.9],[-0.23,7.5],[-0.9,7.4],[-0.9,6.9],[0.3,6.7],[0.7,6.1],[1.45,7.0],[1.7,7.4],[3.2,5.9],[3.4,5.35],[4.4,6.9],[5.2,6.2],[4.7,5.8],
 [-4.2,6.0],[-3.9,5.2],[-3.5,4.8],[-2.95,4.3],[-4.1,3.7],[-3.7,3.5],[-3.35,3.3],[-4.7,2.55],[-2.95,2.45],[-5.3,1.3],[-2.0,5.5],[-1.6,5.4],[-0.8,5.2],[-0.7,4.8],
 [-2.76,6.03],[-2.2,4.7],[-1.8,3.66],[-2.2,1.97],[-2.76,1.3],[-3.5,0.6],[-3.9,-0.07],[-4.5,-1.1],[-4.9,-1.6],[-5.1,-2.5],[-5.3,-3.8],[-5.1,-4.1],[-5.5,-4.6],[-5.7,-5.4],[-5.5,-5.4],[-5.2,-7.0],[-4.7,-6.3],[-3.5,-5.8],[-3.2,-4.8],[-2.8,-4.1],[-2.4,-3.5],[-2.8,-2.8],[-1.6,-4.8],[-1.4,-5.7],[-1.0,-5.2],[-0.6,-5.3],[-0.4,-4.6],[0.15,-5.5],[0.55,-4.5],[0.9,-4.1],[1.3,-5.0],[1.6,-4.6],[1.8,-6.4],[2.3,-4.8],[2.9,-5.2],[2.9,-3.5],[2.5,-2.8],[3.3,-2.1],[3.7,-1.1],[4.2,-0.75],[4.8,-0.4],[5.0,-1.25],[5.2,0.27],[6.0,0.6],[6.2,1.3],[6.6,1.97],[6.8,2.3],[6.4,2.6],[6.0,2.9],[6.9,3.3],[6.6,3.8],[6.8,4.5],[7.6,4.85],[7.7,2.3],[8.2,1.8],[8.3,3.0],[8.1,3.5],[8.9,3.3],[9.3,4.0],[9.5,3.0],[7.5,1.3],[7.3,0.44],[6.2,-0.07],[5.4,-0.4],[5.8,-1.1],[5.4,-1.4],[4.6,-1.4],[4.0,-0.4],[4.4,0.44],[4.4,1.46],[4.8,1.8],[5.0,2.3],[4.4,2.8],[3.85,3.3],[4.4,4.0],[5.0,4.7],[4.6,5.2],[4.0,5.7],[3.46,6.2],[2.9,6.7],[2.3,6.2],[1.5,5.7],[0.9,5.2],[0.15,5.7],[-0.4,6.2],[-1.2,6.0],[-1.4,6.7],[-2.0,6.4],[-1.0,4.3],[-1.6,4.8],
 [-5.3,-0.9],[-5.1,-1.3],[-5.6,-3.46],[-5.2,-3.3],[-6.2,-0.07],[-4.9,2.0],[-5.1,2.3],[-4.7,0.3]
];
const diagC = [-20, 20];
const sampleText = 'n = 887';

// ---------- axis tick values ----------
const logXMajor = [1,10,100,1000,10000];
const logYMajor = [0.0001,0.001,0.01,0.1,1,10];
const minorSteps = [2,3,4,5,6,7,8,9];

function rowsToPoints(rows){ const out=[]; rows.forEach(r=>r[1].forEach(x=>out.push([x,r[0]]))); return out; }
function tickList(majors){ const out=majors.map(m=>[m,1]); majors.slice(0,-1).forEach(m=>minorSteps.forEach(k=>out.push([m*k,0]))); return out; }

const MY = "'Open Sans', 'Noto Sans', sans-serif";
const AR = "'Liberation Sans', Arial, sans-serif";
const BLUE = '#0000ff';

function powLabel(v){ const e=Math.round(Math.log10(v)); return '{b|10}{s|'+e+'}'; }
const powRich = {
  b:{fontSize:14,fontFamily:AR,color:'#000',lineHeight:17,padding:[4,0,0,0],verticalAlign:'bottom'},
  s:{fontSize:10,fontFamily:AR,color:'#000',lineHeight:12,verticalAlign:'top'}
};
function minusFmt(v){ return String(v).replace('-','\u2212'); }

function logAxisX(gi){ return {type:'log',logBase:10,gridIndex:gi,min:1,max:10000,
  axisLine:{show:true,lineStyle:{color:'#222',width:1}},axisTick:{show:false},splitLine:{show:false},
  axisLabel:{formatter:powLabel,rich:powRich,margin:6,showMinLabel:true,showMaxLabel:true}}; }
function logAxisY(gi){ return {type:'log',logBase:10,gridIndex:gi,min:0.0001,max:10,
  axisLine:{show:true,lineStyle:{color:'#222',width:1}},axisTick:{show:false},splitLine:{show:false},
  axisLabel:{formatter:powLabel,rich:powRich,margin:6,showMinLabel:true,showMaxLabel:true}}; }
function linAxis(gi,min,max,interval){ return {type:'value',gridIndex:gi,min:min,max:max,interval:interval,
  axisLine:{show:true,onZero:false,lineStyle:{color:'#000',width:1}},
  axisTick:{show:true,inside:true,length:5,lineStyle:{color:'#000'}},
  splitLine:{show:true,lineStyle:{color:'#444',width:1,type:[1,3]}},
  axisLabel:{fontSize:20,fontFamily:AR,color:'#000',margin:7,formatter:minusFmt,showMinLabel:true,showMaxLabel:true}}; }

function tickSeries(ai, ticks, dir){
  return {type:'custom',xAxisIndex:ai,yAxisIndex:ai,silent:true,z:6,clip:false,
    data: ticks.map(t=>dir==='x'?[t[0],1,t[1]]:[1,t[0],t[1]]),
    renderItem:function(params,api){
      const cs=params.coordSys; const p=api.coord([api.value(0),api.value(1)]);
      const len=api.value(2)?5:3; const st={stroke:'#222',lineWidth:1};
      if(dir==='x'){ const x=Math.round(p[0])+0.5; const b=cs.y+cs.height;
        return {type:'group',children:[
          {type:'line',shape:{x1:x,y1:b,x2:x,y2:b-len},style:st},
          {type:'line',shape:{x1:x,y1:cs.y,x2:x,y2:cs.y+len},style:st}]}; }
      const y=Math.round(p[1])+0.5; const r=cs.x+cs.width;
      return {type:'group',children:[
        {type:'line',shape:{x1:cs.x,y1:y,x2:cs.x+len,y2:y},style:st},
        {type:'line',shape:{x1:r,y1:y,x2:r-len,y2:y},style:st}]};
    }};
}

const texts = [
 {t:'(a)',x:8,y:21,s:22,f:MY,a:'left'},
 {t:'Observed counts vs error',x:355,y:32,s:19,f:MY},
 {t:'Expected counts vs error',x:931,y:32,s:19,f:MY},
 {t:'Number of reads per replicate sample',x:357,y:493,s:19,f:MY},
 {t:'Number of reads per replicate sample',x:934,y:493,s:19,f:MY},
 {t:'Error (difference between replicates)',x:40,y:261,s:19,f:MY,r:true},
 {t:'Error (difference between replicates)',x:649,y:260,s:19,f:MY,r:true},
 {t:'(b)',x:8,y:579,s:22,f:MY,a:'left'},
 {t:'(c)',x:612,y:579,s:22,f:MY,a:'left'},
 {t:'Adipose vs Islets',x:938,y:590,s:20,f:AR},
 {t:'log2(ASE\u2212ratio) \u2212 Replicate 1',x:336,y:1050,s:20,f:AR},
 {t:'log2(ASE\u2212ratio) \u2212 Replicate 2',x:91,y:812,s:20,f:AR,r:true},
 {t:'log(biomial p) \u2212 Adipose',x:941,y:1048,s:20,f:AR},
 {t:'log(binomial p) \u2212 Islets',x:682,y:803,s:20,f:AR,r:true},
 {t:sampleText,x:1013,y:973,s:20,f:AR,a:'left'}
];

const chart = echarts.init(document.getElementById('c'), null, {renderer:'canvas'});
chart.setOption({
  animation:false,
  backgroundColor:'#fff',
  grid:[
    {left:87,top:66,width:502,height:378,show:true,borderColor:'#222',borderWidth:1,backgroundColor:'transparent',outerBoundsMode:'none',containLabel:false},
    {left:698,top:69,width:472,height:377,show:true,borderColor:'#222',borderWidth:1,backgroundColor:'transparent',outerBoundsMode:'none',containLabel:false},
    {left:145,top:617,width:395,height:393,outerBoundsMode:'none',containLabel:false},
    {left:737,top:616,width:393,height:393,outerBoundsMode:'none',containLabel:false}
  ],
  xAxis:[logAxisX(0),logAxisX(1),linAxis(2,-3,4,1),linAxis(3,-20,20,10)],
  yAxis:[logAxisY(0),logAxisY(1),linAxis(2,-3,4,1),linAxis(3,-20,20,5)],
  series:[
    {type:'scatter',xAxisIndex:0,yAxisIndex:0,symbolSize:6,itemStyle:{color:BLUE,opacity:1},
      data:rowsToPoints(obsRows).concat(obsStripes,obsSparse,obsMottled),silent:true},
    {type:'scatter',xAxisIndex:1,yAxisIndex:1,symbolSize:6,itemStyle:{color:BLUE,opacity:1},
      data:rowsToPoints(expRows).concat(expStripes,expSparse,expMottled),silent:true},
    tickSeries(0,tickList(logXMajor),'x'),
    tickSeries(0,tickList(logYMajor),'y'),
    tickSeries(1,tickList(logXMajor),'x'),
    tickSeries(1,tickList(logYMajor),'y'),
    {type:'scatter',xAxisIndex:2,yAxisIndex:2,symbol:'circle',symbolSize:11,
      itemStyle:{color:'rgba(0,0,0,0)',borderColor:BLUE,borderWidth:1.1},data:aseRep,silent:true},
    {type:'line',xAxisIndex:2,yAxisIndex:2,symbol:'none',silent:true,z:3,
      lineStyle:{color:'#000',width:1},data:diagB.map(v=>[v,v])},
    {type:'scatter',xAxisIndex:3,yAxisIndex:3,symbol:'circle',symbolSize:7,
      itemStyle:{color:'rgba(0,0,0,0)',borderColor:BLUE,borderWidth:1},data:pCore.concat(pSparse),silent:true},
    {type:'line',xAxisIndex:3,yAxisIndex:3,symbol:'none',silent:true,z:3,
      lineStyle:{color:'#000',width:1},data:diagC.map(v=>[v,v])}
  ],
  graphic: texts.map(o=>({type:'text',x:o.x,y:o.y,rotation:o.r?Math.PI/2:0,silent:true,
    style:{text:o.t,fontSize:o.s,fontFamily:o.f,fill:'#000',align:o.a||'center',verticalAlign:'middle'}}))
});
</script></body></html>
